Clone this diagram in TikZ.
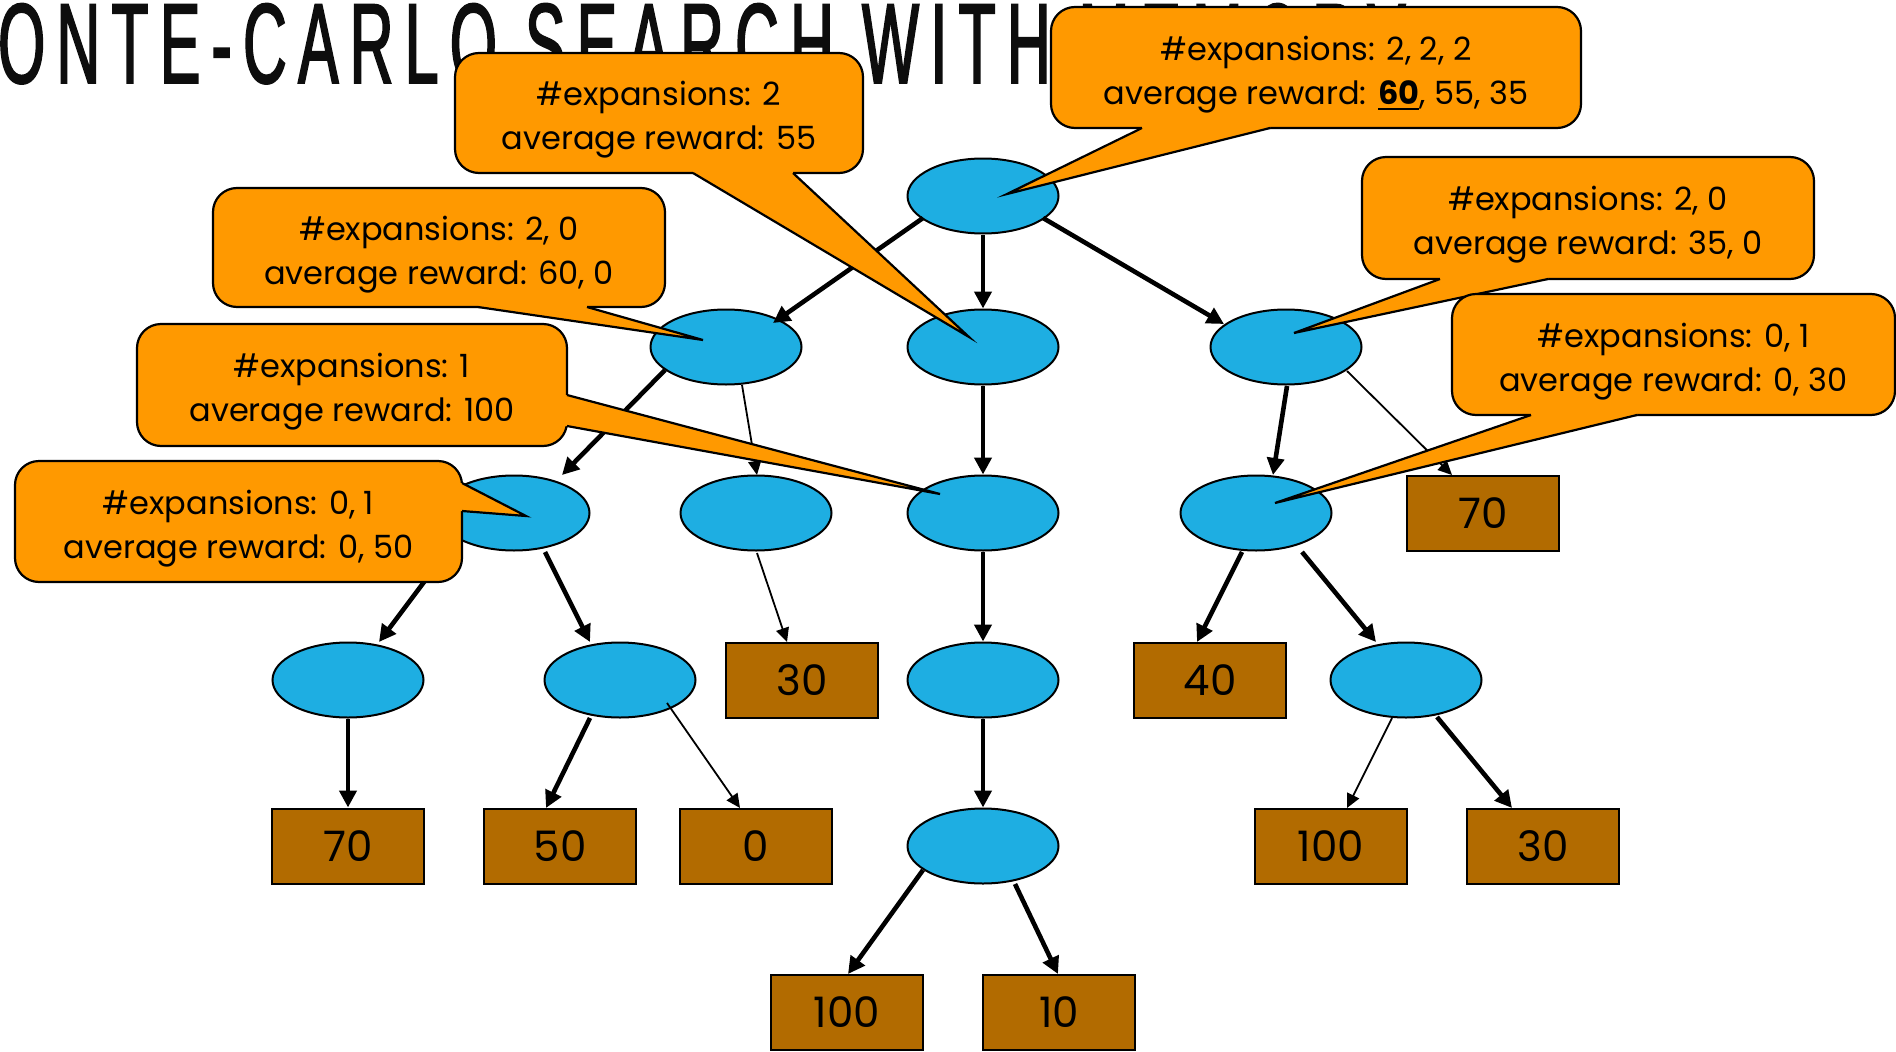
\documentclass[tikz,border=0pt]{standalone}
\usepackage{fontspec}
\setmainfont{Poppins}
\newfontfamily\titlefont[FakeStretch=0.53,FakeBold=1.5,LetterSpace=10]{Liberation Sans}
\usetikzlibrary{arrows.meta,calc,shapes.geometric}

\definecolor{calloutfill}{RGB}{255,153,0}
\definecolor{nodefill}{RGB}{30,174,226}
\definecolor{leaffill}{RGB}{178,107,0}
\definecolor{titleink}{RGB}{13,13,13}

% bold, underlined figure
\newcommand\ulbf[1]{\setbox0\hbox{\bfseries #1}\rlap{\rule[-6pt]{\wd0}{2.6pt}}\box0}
% two centred lines, set a little below the box centre
\newcommand\twolines[2]{\raisebox{-6pt}[\height][\depth]{\begin{tabular}{@{}c@{}}#1\\#2\end{tabular}}}

% pointer leaving the bottom edge of a callout box: node, left x, right x (from its south west), tip
\newcommand\bottomwedge[4]{%
  \fill[wedgefill] ($(#1.south west)+(#2,-5)$) -- ($(#1.south west)+(#2,0)$) -- (#4)
     -- ($(#1.south west)+(#3,0)$) -- ($(#1.south west)+(#3,-5)$) -- cycle;
  \draw[wedgeline] ($(#1.south west)+(#2,0)$) -- (#4) -- ($(#1.south west)+(#3,0)$);}
% pointer leaving the right edge of a callout box: node, upper y, lower y (from its north east), tip
\newcommand\sidewedge[4]{%
  \fill[wedgefill] ($(#1.north east)+(-5,#2)$) -- ($(#1.north east)+(0,#2)$) -- (#4)
     -- ($(#1.north east)+(0,#3)$) -- ($(#1.north east)+(-5,#3)$) -- cycle;
  \draw[wedgeline] ($(#1.north east)+(0,#2)$) -- (#4) -- ($(#1.north east)+(0,#3)$);}

\tikzset{
  state/.style={ellipse, draw=black, line width=2pt, fill=nodefill,
    minimum width=151pt, minimum height=75pt, inner sep=0pt},
  leaf/.style={rectangle, draw=black, line width=2pt, fill=leaffill,
    minimum width=152pt, minimum height=75pt, inner sep=0pt,
    font=\fontsize{42}{42}\selectfont},
  heavy/.style={line width=4.6pt, -{Triangle[length=17pt,width=17pt]}},
  light/.style={line width=1.8pt, -{Triangle[length=14pt,width=13pt]}},
  infobox/.style={rectangle, rounded corners=24pt, draw=black, line width=2.2pt,
    fill=calloutfill, inner sep=0pt, outer sep=0pt,
    font=\fontsize{32}{44}\selectfont},
  wedgefill/.style={fill=calloutfill, draw=none},
  wedgeline/.style={draw=black, line width=2.2pt, line join=miter},
}

\begin{document}
\begin{tikzpicture}[x=1pt,y=-1pt]
\useasboundingbox (0,0) rectangle (1896,1052);
\clip (0,0) rectangle (1896,1052);
\fill[white] (0,0) rectangle (1896,1052);

% heading
\node[anchor=base west, inner sep=0pt, text=titleink,
      font=\titlefont\fontsize{114}{114}\selectfont] (heading) at (-2,83)
      {\llap{M}ONTE-CARLO SEARCH WITH MEMORY};

% tree states
\node[state] (root) at (983,196) {};
\node[state] (a1) at (726,347) {};
\node[state] (a2) at (983,347) {};
\node[state] (a3) at (1286,347) {};
\node[state] (b1) at (514,513) {};
\node[state] (b2) at (756,513) {};
\node[state] (b3) at (983,513) {};
\node[state] (b4) at (1256,513) {};
\node[state] (c1) at (348,680) {};
\node[state] (c2) at (620,680) {};
\node[state] (c3) at (983,680) {};
\node[state] (c4) at (1406,680) {};
\node[state] (e1) at (983,846) {};

% terminal rewards
\node[leaf] (r70) at (1483,513) {70};
\node[leaf] (c30) at (802,680) {30};
\node[leaf] (c40) at (1210,680) {40};
\node[leaf] (d70) at (348,846) {70};
\node[leaf] (d50) at (560,846) {50};
\node[leaf] (d0) at (756,846) {0};
\node[leaf] (d100) at (1331,846) {100};
\node[leaf] (d30) at (1543,846) {30};
\node[leaf] (f100) at (847,1012) {100};
\node[leaf] (f10) at (1059,1012) {10};

% expansions
\draw[heavy] ($(root)+(-60,22)$) -- ($(a1)+(47,-24)$);
\draw[heavy] (root.south) -- (a2.north);
\draw[heavy] ($(root)+(60,22)$) -- ($(a3)+(-62,-23)$);
\draw[heavy] ($(a1)+(-61,23)$) -- ($(b1)+(48,-38)$);
\draw[light] ($(a1)+(16,38)$) -- ($(b2)+(1,-38)$);
\draw[heavy] (a2.south) -- (b3.north);
\draw[heavy] ($(a3)+(1,39)$) -- ($(b4)+(17,-38)$);
\draw[light] ($(a3)+(61,24)$) -- ($(r70)+(-31,-38)$);
\draw[heavy] ($(b1)+(-57,25)$) -- ($(c1)+(31,-38)$);
\draw[heavy] ($(b1)+(31,39)$) -- ($(c2)+(-30,-38)$);
\draw[light] ($(b2)+(1,40)$) -- ($(c30)+(-15,-38)$);
\draw[heavy] (b3.south) -- (c3.north);
\draw[heavy] ($(b4)+(-14,39)$) -- ($(c40)+(-13,-38)$);
\draw[heavy] ($(b4)+(46,39)$) -- ($(c4)+(-30,-38)$);
\draw[heavy] (c1.south) -- (d70.north);
\draw[heavy] ($(c2)+(-30,38)$) -- ($(d50)+(-14,-38)$);
\draw[light] ($(c2)+(47,23)$) -- ($(d0)+(-16,-38)$);
\draw[heavy] (c3.south) -- (e1.north);
\draw[light] ($(c4)+(-14,38)$) -- ($(d100)+(16,-38)$);
\draw[heavy] ($(c4)+(31,37)$) -- ($(d30)+(-31,-38)$);
\draw[heavy] ($(e1)+(-60,24)$) -- ($(f100)+(1,-38)$);
\draw[heavy] ($(e1)+(32,38)$) -- ($(f10)+(-1,-38)$);

% statistics callouts
\node[infobox, minimum width=530pt, minimum height=121pt] (cA) at (1316,67.5)
  {\twolines{\#expansions: 2, 2, 2}{average reward: \ulbf{60}, 55, 35}};
\bottomwedge{cA}{91}{219}{$(root)+(24,-2)$}

\node[infobox, minimum width=408pt, minimum height=120pt] (cB) at (659,113)
  {\twolines{\#expansions: 2}{average reward: 55}};
\bottomwedge{cB}{238}{338}{$(a2)+(-14,-10)$}

\node[infobox, minimum width=452pt, minimum height=119pt] (cC) at (439,247.5)
  {\twolines{\#expansions: 2, 0}{average reward: 60, 0}};
\bottomwedge{cC}{265}{374}{$(a1)+(-23,-7)$}

\node[infobox, minimum width=430pt, minimum height=122pt] (cD) at (352,385)
  {\twolines{\#expansions: 1}{average reward: 100}};
\sidewedge{cD}{71}{102}{$(b3)+(-43,-19)$}

\node[infobox, minimum width=447pt, minimum height=121pt] (cE) at (238.5,521.5)
  {\twolines{\#expansions: 0, 1}{average reward: 0, 50}};
\sidewedge{cE}{22}{50}{$(b1)+(12,3)$}

\node[infobox, minimum width=452pt, minimum height=122pt] (cF) at (1588,218)
  {\twolines{\#expansions: 2, 0}{average reward: 35, 0}};
\bottomwedge{cF}{78}{186}{$(a3)+(8,-14)$}

\node[infobox, minimum width=443pt, minimum height=121pt] (cG) at (1673.5,354.5)
  {\twolines{\#expansions: 0, 1}{average reward: 0, 30}};
\bottomwedge{cG}{79}{185}{$(b4)+(19,-10)$}
\end{tikzpicture}
\end{document}
